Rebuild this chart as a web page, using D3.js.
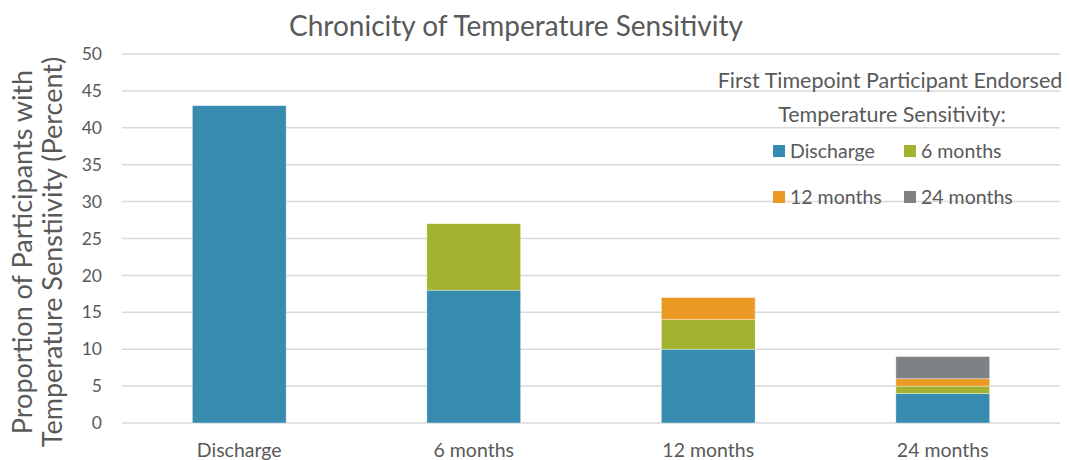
<!DOCTYPE html>
<html>
<head>
<meta charset="utf-8">
<script src="https://cdn.jsdelivr.net/npm/d3@7"></script>
<style>
  body { margin: 0; background: #fff; }
  svg text { font-family: Lato, "Open Sans", sans-serif; fill: #595959; }
</style>
</head>
<body>
<svg class="chart" width="1069" height="460"></svg>
<script>
// data
const categories = ["Discharge", "6 months", "12 months", "24 months"];
const seriesNames = ["Discharge", "6 months", "12 months", "24 months"];
const discharge = [43, 18, 10, 4];
const sixMonths = [0, 9, 4, 1];
const twelveMonths = [0, 0, 3, 1];
const twentyFourMonths = [0, 0, 0, 3];
const yTicks = [0, 5, 10, 15, 20, 25, 30, 35, 40, 45, 50];
const colors = ["#368bae", "#a3b32f", "#ea9a24", "#7f8285"];

(function drawChart(){
    const svg = d3.select("svg.chart");
    const margin = {top: 54, right: 9, bottom: 37, left: 122};
    const width = svg.attr("width") - margin.left - margin.right;
    const height = svg.attr("height") - margin.top - margin.bottom;
    const g = svg.append("g").attr("transform", "translate(" + margin.left + "," + margin.top + ")");

    const rows = categories.map(function(c, i) {
        return {
            cat: c,
            "Discharge": discharge[i],
            "6 months": sixMonths[i],
            "12 months": twelveMonths[i],
            "24 months": twentyFourMonths[i]
        };
    });
    const stacked = d3.stack().keys(seriesNames)(rows);

    const x = d3.scaleBand().domain(categories).range([0, width]).paddingInner(0.6).paddingOuter(0.3);
    const y = d3.scaleLinear().domain([0, 50]).range([height, 0]);
    const color = d3.scaleOrdinal().domain(seriesNames).range(colors);

    // gridlines
    g.append("g")
        .attr("class", "grid")
        .selectAll("line")
        .data(yTicks)
        .enter()
        .append("line")
        .attr("x1", 0)
        .attr("x2", width)
        .attr("y1", function(d) { return y(d); })
        .attr("y2", function(d) { return y(d); })
        .attr("stroke", "#d9d9d9")
        .attr("stroke-width", 1.5);

    // y axis labels
    const yAxis = g.append("g")
        .call(d3.axisLeft(y).tickValues(yTicks).tickSize(0).tickPadding(20));
    yAxis.select(".domain").remove();
    yAxis.selectAll("text").style("font-size", "17.5px").style("fill", "#595959");

    // x axis labels
    const xAxis = g.append("g")
        .attr("transform", "translate(0," + height + ")")
        .call(d3.axisBottom(x).tickSize(0).tickPadding(20));
    xAxis.select(".domain").remove();
    xAxis.selectAll("text").style("font-size", "19.5px").style("fill", "#595959");

    // bars
    g.append("g")
        .selectAll("g")
        .data(stacked)
        .enter()
        .append("g")
        .attr("fill", function(d) { return color(d.key); })
        .selectAll("rect")
        .data(function(d) { return d.filter(function(p) { return p[1] - p[0] > 0; }); })
        .enter()
        .append("rect")
        .attr("x", function(d) { return x(d.data.cat); })
        .attr("width", x.bandwidth())
        .attr("y", function(d) { return y(d[1]); })
        .attr("height", function(d) { return y(d[0]) - y(d[1]); })
        .attr("stroke", "#fff")
        .attr("stroke-opacity", 0.5)
        .attr("stroke-width", 0.75);

    // title
    svg.append("text")
        .attr("x", 516)
        .attr("y", 36)
        .attr("text-anchor", "middle")
        .style("font-size", "28px")
        .text("Chronicity of Temperature Sensitivity");

    // y title (two lines)
    const yt = svg.append("text")
        .attr("transform", "translate(0,252) rotate(-90)")
        .attr("text-anchor", "middle")
        .style("font-size", "27px");
    yt.append("tspan").attr("x", 0).attr("y", 32).text("Proportion of Participants with");
    yt.append("tspan").attr("x", 0).attr("y", 62).text("Temperature Senstiivity (Percent)");

    // legend
    const legend = svg.append("g");
    legend.append("text")
        .attr("x", 890).attr("y", 88)
        .attr("text-anchor", "middle")
        .style("font-size", "21.5px")
        .text("First Timepoint Participant Endorsed");
    legend.append("text")
        .attr("x", 892).attr("y", 122)
        .attr("text-anchor", "middle")
        .style("font-size", "21.5px")
        .text("Temperature Sensitivity:");

    const items = legend.selectAll(".item")
        .data(seriesNames)
        .enter()
        .append("g")
        .attr("class", "item")
        .attr("transform", function(d, i) {
            return "translate(" + (i % 2 === 0 ? 773 : 904) + "," + (i < 2 ? 151 : 197) + ")";
        });
    items.append("rect")
        .attr("x", 0).attr("y", -6)
        .attr("width", 12).attr("height", 12)
        .attr("fill", function(d) { return color(d); });
    items.append("text")
        .attr("x", 17).attr("y", 0)
        .attr("dy", "0.35em")
        .style("font-size", "19.5px")
        .text(function(d) { return d; });
})();
</script>
</body>
</html>
